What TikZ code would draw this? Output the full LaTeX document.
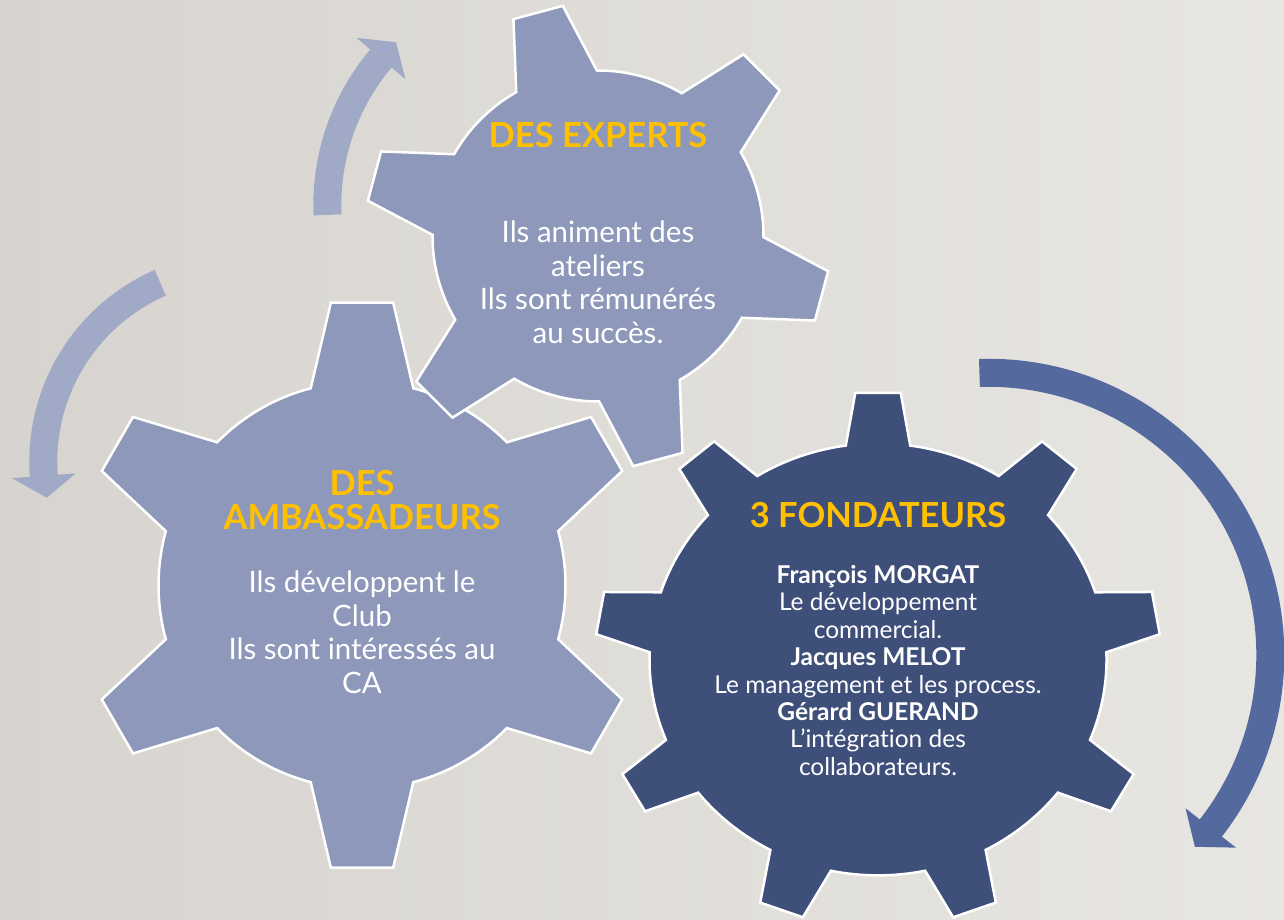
\documentclass[tikz,border=0pt]{standalone}
\usepackage{fontspec}
\setmainfont[Ligatures=NoCommon]{Lato}
\usepackage{tikz}
\usetikzlibrary{positioning}

\definecolor{gearlight}{RGB}{141,152,186}
\definecolor{geardark}{RGB}{62,79,122}
\definecolor{arrowlight}{RGB}{160,170,198}
\definecolor{arrowdark}{RGB}{84,106,158}
\definecolor{titlegold}{RGB}{255,192,0}
\definecolor{bgleft}{RGB}{215,212,207}
\definecolor{bgright}{RGB}{232,230,226}

% gear outline: teeth, first tooth angle, tip radius, root radius, tip half angle, base half angle
\newcommand{\gearpath}[6]{({#2-#6}:#4) \foreach \k in {1,...,#1}{
    -- ({#2+(\k-1)*360/#1-#5}:#3) -- ({#2+(\k-1)*360/#1+#5}:#3)
    -- ({#2+(\k-1)*360/#1+#6}:#4)
    arc[start angle={#2+(\k-1)*360/#1+#6}, end angle={#2+\k*360/#1-#6}, radius=#4]
  } -- cycle}

% curved arrow: mid radius, start angle, shaft end angle, tip angle
\newcommand{\turnarrow}[4]{({#2}:{#1+14}) arc[start angle=#2, end angle=#3, radius={#1+14}]
  -- ({#3}:{#1+32}) -- ({#4}:#1) -- ({#3}:{#1-32}) -- ({#3}:{#1-14})
  arc[start angle=#3, end angle=#2, radius={#1-14}] -- cycle}

\begin{document}
\begin{tikzpicture}[
    x=1pt, y=1pt,
    gearstyle/.style={draw=white, line width=2.5pt, line join=miter},
    titletext/.style={font=\fontsize{34.5}{34}\selectfont\bfseries, text=titlegold, align=center, inner sep=0pt},
    bodytext/.style={font=\fontsize{29.5}{33.5}\selectfont, text=white, align=center, inner sep=0pt},
    foundertext/.style={font=\fontsize{24.5}{27.4}\selectfont, text=white, align=center, inner sep=0pt}
]

% Background
\useasboundingbox (0,0) rectangle (1284,920);
\shade[left color=bgleft, right color=bgright] (0,0) rectangle (1284,920);

% Turning arrows
\begin{scope}[shift={(554.3,715)}]
    \fill[arrowlight] \turnarrow{227}{182.5}{139.8}{134.2};
\end{scope}
\begin{scope}[shift={(238.3,458.5)}]
    \fill[arrowlight] \turnarrow{195}{113.6}{184.2}{190.7};
\end{scope}
\begin{scope}[shift={(988.3,265.2)}]
    \fill[arrowdark] \turnarrow{282}{91.8}{-37.9}{-42.9};
\end{scope}

% Gears
\begin{scope}[shift={(362,334.8)}]
    \path[gearstyle, fill=gearlight] \gearpath{6}{90}{284.2}{203.5}{6.3}{14.6};
\end{scope}
\begin{scope}[shift={(598,684)}]
    \path[gearstyle, fill=gearlight] \gearpath{6}{105}{232.8}{165.5}{6.3}{14.6};
\end{scope}
\begin{scope}[shift={(878,260.6)}, xscale=1.058]
    \path[gearstyle, fill=geardark] \gearpath{9}{90}{267.5}{216}{4.6}{8.1};
\end{scope}

% Texts
\node[titletext] (expertstitle) at (598,785) {DES EXPERTS};
\node[bodytext] (expertsbody) at (598,637.6) {Ils animent des\\ateliers\\Ils sont rémunérés\\au succès.};

\node[titletext, font=\fontsize{34.5}{33.7}\selectfont\bfseries] (ambtitle) at (362,420) {DES\\AMBASSADEURS};
\node[bodytext] (ambbody) at (362,287.7) {Ils développent le\\Club\\Ils sont intéressés au\\CA};

\node[titletext] (fondtitle) at (878,405.3) {3 FONDATEURS};
\node[foundertext] (fondbody) at (878,249.6) {\textbf{François MORGAT}\\Le développement\\commercial.\\\textbf{Jacques MELOT}\\Le management et les process.\\\textbf{Gérard GUERAND}\\L’intégration des\\collaborateurs.};

\end{tikzpicture}
\end{document}
